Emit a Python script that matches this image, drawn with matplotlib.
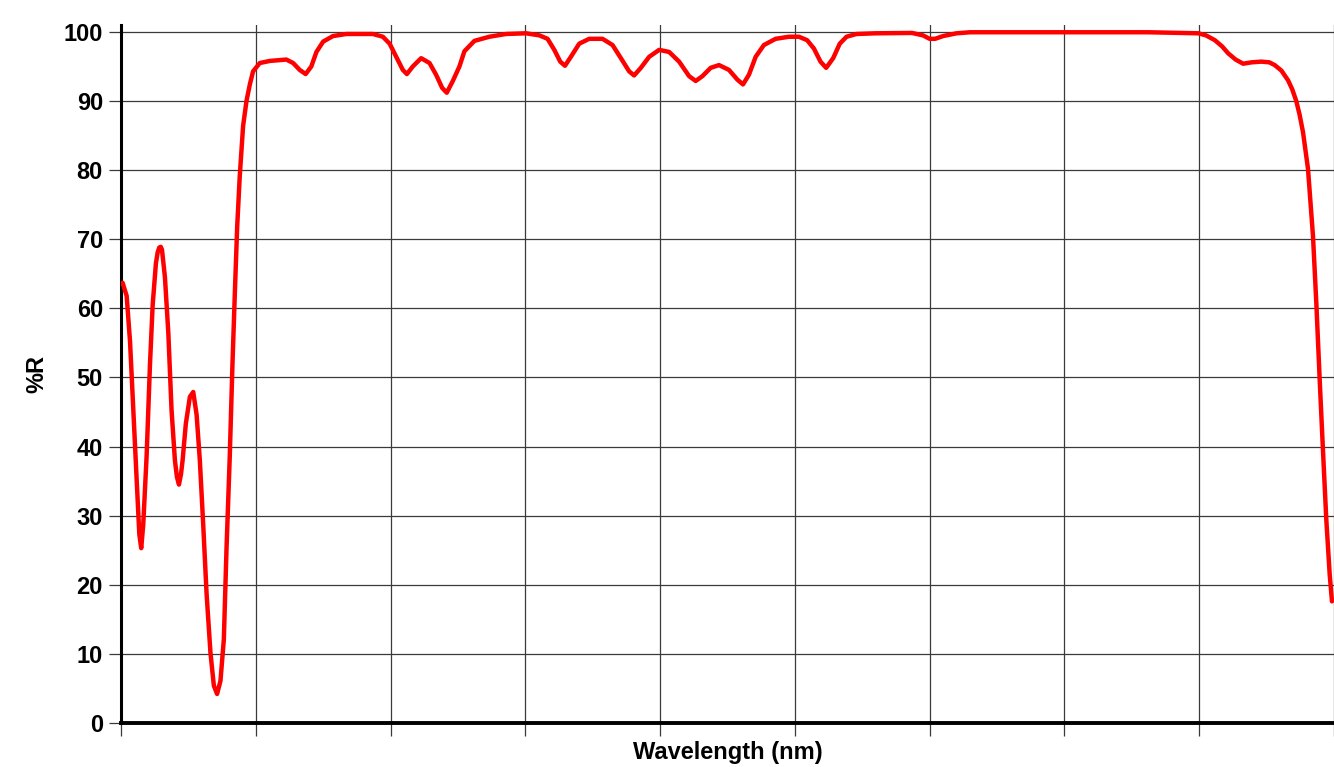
import matplotlib.pyplot as plt

plt.rcParams['font.family'] = ['Liberation Sans', 'DejaVu Sans']

# x in grid divisions (the chart shows no wavelength tick labels)
wavelength = [0.0, 0.012, 0.042, 0.067, 0.091, 0.116, 0.136, 0.15, 0.165, 0.19,
              0.215, 0.235, 0.259, 0.272, 0.284, 0.295, 0.304, 0.326, 0.351, 0.375,
              0.4, 0.415, 0.43, 0.445, 0.457, 0.481, 0.511, 0.536, 0.561, 0.585,
              0.61, 0.635, 0.664, 0.689, 0.713, 0.738, 0.763, 0.783, 0.807, 0.827,
              0.844, 0.862, 0.881, 0.906, 0.931, 0.956, 0.98, 1.03, 1.104, 1.227,
              1.277, 1.326, 1.37, 1.412, 1.45, 1.5, 1.573, 1.672, 1.869, 1.943,
              1.993, 2.042, 2.091, 2.121, 2.165, 2.227, 2.289, 2.338, 2.383, 2.417,
              2.462, 2.511, 2.548, 2.622, 2.733, 2.857, 3.005, 3.104, 3.165, 3.215,
              3.259, 3.294, 3.338, 3.4, 3.474, 3.573, 3.647, 3.709, 3.77, 3.807,
              3.857, 3.919, 3.993, 4.067, 4.141, 4.215, 4.264, 4.314, 4.375, 4.437,
              4.511, 4.573, 4.615, 4.659, 4.709, 4.77, 4.857, 4.956, 5.03, 5.091,
              5.141, 5.19, 5.232, 5.284, 5.333, 5.383, 5.457, 5.6, 5.869, 5.95,
              6.0, 6.04, 6.1, 6.2, 6.3, 6.66, 7.2, 7.622, 7.993, 8.05,
              8.116, 8.17, 8.215, 8.27, 8.326, 8.39, 8.46, 8.52, 8.56, 8.61,
              8.659, 8.69, 8.72, 8.745, 8.77, 8.807, 8.844, 8.869, 8.894, 8.919,
              8.943, 8.968, 8.985]
reflectance = [63.6, 63.7, 61.8, 55.2, 45.3, 35.3, 27.3, 25.3, 28.7, 38.6,
               51.9, 60.5, 66.5, 68.1, 68.8, 68.9, 68.5, 64.5, 56.5, 45.3,
               38.0, 35.6, 34.5, 36.0, 38.0, 43.3, 47.2, 47.9, 44.6, 38.0,
               28.7, 18.7, 10.1, 5.4, 4.2, 6.1, 12.1, 25.3, 38.6, 51.9,
               61.8, 71.8, 79.1, 86.4, 90.0, 92.4, 94.3, 95.5, 95.8, 96.0,
               95.5, 94.5, 93.9, 95.0, 97.1, 98.6, 99.4, 99.7, 99.7, 99.3,
               98.3, 96.4, 94.5, 93.9, 95.0, 96.2, 95.5, 93.8, 91.9, 91.2,
               92.9, 95.0, 97.2, 98.7, 99.3, 99.7, 99.8, 99.5, 99.0, 97.4,
               95.7, 95.1, 96.4, 98.3, 99.0, 99.0, 98.1, 96.2, 94.3, 93.7,
               94.8, 96.4, 97.4, 97.1, 95.7, 93.6, 92.9, 93.6, 94.8, 95.2,
               94.5, 93.1, 92.4, 93.8, 96.4, 98.1, 99.0, 99.3, 99.3, 98.8,
               97.6, 95.7, 94.8, 96.2, 98.3, 99.3, 99.7, 99.8, 99.85, 99.5,
               99.0, 99.0, 99.4, 99.8, 99.95, 99.95, 99.95, 99.95, 99.8, 99.5,
               98.8, 97.9, 96.9, 96.0, 95.4, 95.6, 95.7, 95.6, 95.2, 94.4,
               93.0, 91.7, 90.0, 88.0, 85.5, 80.2, 70.5, 60.7, 49.6, 39.1,
               29.4, 21.5, 17.6]

y_ticks = list(range(0, 101, 10))
x_grid = list(range(0, 10))

fig = plt.figure(figsize=(13.34, 7.67), dpi=100)
ax = fig.add_axes([121 / 1334, 44 / 767, 1 - 121 / 1334, 698 / 767])

ax.plot(wavelength, reflectance, color='#ff0000', lw=3.2,
        solid_joinstyle='round', solid_capstyle='round', zorder=3)

ax.set_xlim(0, 8.985)
ax.set_ylim(0, 101)
ax.set_yticks(y_ticks)
ax.set_xticks(x_grid)
ax.set_xticklabels([])
ax.grid(True, color='#3a3a3a', lw=0.9)
ax.tick_params(axis='both', direction='out', length=9, width=0.9, color='#3a3a3a')
ax.tick_params(axis='y', labelsize=17, pad=4)
for lab in ax.get_yticklabels():
    lab.set_fontweight('bold')

for s in ['top', 'right']:
    ax.spines[s].set_visible(False)
ax.spines['left'].set_linewidth(2.2)
ax.spines['bottom'].set_linewidth(2.8)

ax.set_ylabel('%R', fontsize=17, fontweight='bold')
ax.yaxis.set_label_coords(-0.060, 0.5)
ax.set_xlabel('Wavelength (nm)', fontsize=17, fontweight='bold')
ax.xaxis.set_label_coords(0.5, -0.026)

fig.savefig('out.png', dpi=100)
